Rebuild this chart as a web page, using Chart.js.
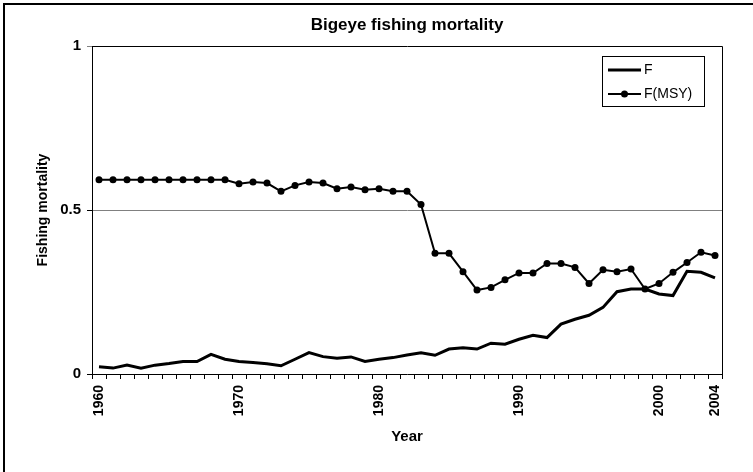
<!DOCTYPE html>
<html>
<head>
<meta charset="utf-8">
<script src="https://cdn.jsdelivr.net/npm/chart.js@4.4.1/dist/chart.umd.min.js"></script>
<style>
  html, body { margin: 0; padding: 0; background: #fff; }
  #wrap { position: relative; width: 753px; height: 472px; }
</style>
</head>
<body>
<div id="wrap"><canvas id="chartCanvas"></canvas></div>
<script>
const years = [];
for (let y = 1960; y <= 2004; y++) years.push(y);

const fValues = [
  0.022, 0.018, 0.027, 0.018, 0.027, 0.032, 0.038, 0.038, 0.060, 0.045,
  0.038, 0.035, 0.031, 0.025, 0.045, 0.065, 0.053, 0.048, 0.052, 0.038,
  0.045, 0.050, 0.058, 0.065, 0.057, 0.076, 0.080, 0.076, 0.094, 0.091,
  0.106, 0.118, 0.111, 0.152, 0.167, 0.179, 0.203, 0.251, 0.259, 0.259,
  0.244, 0.239, 0.313, 0.310, 0.293
];

const fMsyValues = [
  0.592, 0.592, 0.592, 0.592, 0.592, 0.592, 0.592, 0.592, 0.592, 0.592,
  0.580, 0.585, 0.582, 0.557, 0.575, 0.585, 0.582, 0.565, 0.570, 0.562,
  0.565, 0.557, 0.557, 0.517, 0.368, 0.368, 0.312, 0.256, 0.264, 0.287,
  0.308, 0.308, 0.337, 0.337, 0.325, 0.276, 0.318, 0.312, 0.320, 0.259,
  0.276, 0.310, 0.340, 0.371, 0.361
];

const shownYears = [1960, 1970, 1980, 1990, 2000, 2004];
const yTicks = [0, 0.5, 1];

const FONT = '"Liberation Sans", Arial, sans-serif';

// frame around the chart, box round the plot area, and the legend
const extras = {
  id: 'extras',
  afterDraw(c) {
    const ctx = c.ctx;
    const a = c.chartArea;
    ctx.save();
    ctx.strokeStyle = '#000';
    ctx.lineWidth = 2;
    ctx.beginPath();
    ctx.moveTo(4, 480);
    ctx.lineTo(4, 4);
    ctx.lineTo(760, 4);
    ctx.stroke();

    ctx.lineWidth = 1;
    ctx.strokeStyle = '#000';
    ctx.beginPath();
    ctx.moveTo(Math.round(a.left) + 0.5, Math.round(a.top) + 0.5);
    ctx.lineTo(Math.round(a.right) + 0.5, Math.round(a.top) + 0.5);
    ctx.lineTo(Math.round(a.right) + 0.5, Math.round(a.bottom) + 0.5);
    ctx.stroke();

    // legend
    const lx = 602, ly = 56, lw = 102, lh = 50;
    ctx.fillStyle = '#fff';
    ctx.fillRect(lx, ly, lw, lh);
    ctx.strokeRect(lx + 0.5, ly + 0.5, lw, lh);

    ctx.font = '14px ' + FONT;
    ctx.fillStyle = '#000';
    ctx.textBaseline = 'middle';
    ctx.textAlign = 'left';

    ctx.lineWidth = 3;
    ctx.beginPath();
    ctx.moveTo(608, 70);
    ctx.lineTo(641, 70);
    ctx.stroke();
    ctx.fillText('F', 644, 70);

    ctx.lineWidth = 2;
    ctx.beginPath();
    ctx.moveTo(608, 94);
    ctx.lineTo(641, 94);
    ctx.stroke();
    ctx.beginPath();
    ctx.arc(624.5, 94, 3.5, 0, Math.PI * 2);
    ctx.fill();
    ctx.fillText('F(MSY)', 644, 94);
    ctx.restore();
  }
};

const chart = new Chart(document.getElementById('chartCanvas'), {
  type: 'line',
  data: {
    labels: years,
    datasets: [
      {
        label: 'F',
        data: fValues,
        borderColor: '#000',
        borderWidth: 3,
        pointRadius: 0,
        tension: 0,
        fill: false
      },
      {
        label: 'F(MSY)',
        data: fMsyValues,
        borderColor: '#000',
        backgroundColor: '#000',
        borderWidth: 2,
        pointRadius: 3.5,
        pointBackgroundColor: '#000',
        pointBorderWidth: 0,
        tension: 0,
        fill: false
      }
    ]
  },
  options: {
    responsive: true,
    maintainAspectRatio: false,
    animation: false,
    layout: { padding: { left: 0, right: 31, top: 0, bottom: 0 } },
    plugins: {
      legend: { display: false },
      tooltip: { enabled: false },
      title: {
        display: true,
        fullSize: false,
        text: 'Bigeye fishing mortality',
        color: '#000',
        font: { family: FONT, size: 17, weight: 'bold' },
        padding: { top: 15, bottom: 10.6 }
      }
    },
    scales: {
      x: {
        type: 'category',
        offset: true,
        afterFit(s) { s.height = 98; },
        grid: {
          offset: true,
          drawOnChartArea: false,
          drawTicks: true,
          tickLength: 5,
          tickColor: '#000'
        },
        border: { display: true, color: '#000', width: 1 },
        ticks: {
          autoSkip: false,
          minRotation: 90,
          maxRotation: 90,
          padding: 6,
          color: '#000',
          font: { family: FONT, size: 14, weight: 'bold' },
          callback(v, i) {
            const yr = years[i];
            return shownYears.includes(yr) ? String(yr) : '';
          }
        },
        title: {
          display: true,
          text: 'Year',
          color: '#000',
          font: { family: FONT, size: 15, weight: 'bold' },
          padding: { top: 0, bottom: 26 }
        }
      },
      y: {
        min: 0,
        max: 1,
        afterFit(s) { s.width = 92; },
        afterBuildTicks(s) { s.ticks = yTicks.map(v => ({ value: v })); },
        grid: {
          drawTicks: true,
          tickLength: 5,
          tickColor: ctx => (ctx.tick && ctx.tick.value === 1 ? '#808080' : '#000'),
          color: ctx => (ctx.tick && ctx.tick.value === 0.5 ? '#808080' : 'rgba(0,0,0,0)'),
          lineWidth: 1
        },
        border: { display: true, color: '#000', width: 1 },
        ticks: {
          padding: 6,
          color: '#000',
          font: { family: FONT, size: 15, weight: 'bold' },
          callback: v => String(v)
        },
        title: {
          display: true,
          text: 'Fishing mortality',
          color: '#000',
          font: { family: FONT, size: 14, weight: 'bold' },
          padding: { top: 35, bottom: 0 }
        }
      }
    }
  },
  plugins: [extras]
});
</script>
</body>
</html>
